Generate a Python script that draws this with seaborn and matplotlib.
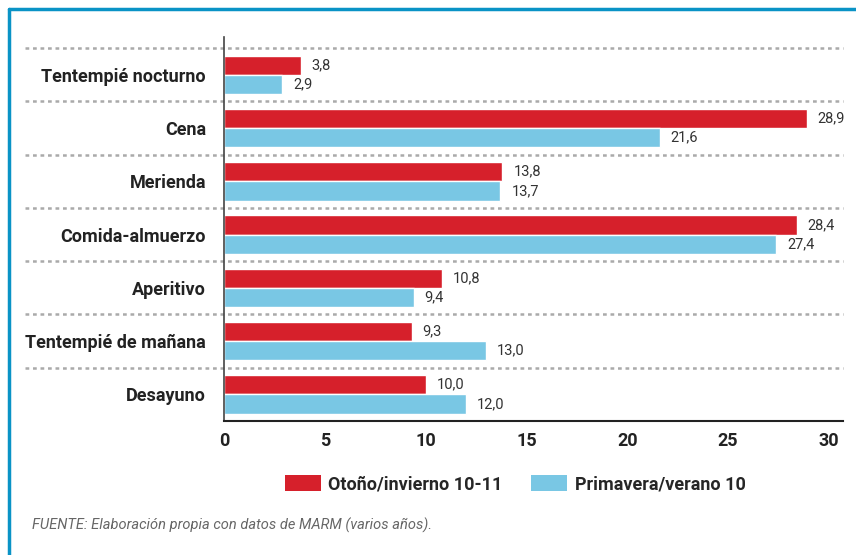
import pandas as pd
import numpy as np
import matplotlib
matplotlib.use('Agg')
import matplotlib.pyplot as plt
import seaborn as sns
from matplotlib.patches import Patch
from matplotlib.lines import Line2D

# Data
categories = ['Tentempié nocturno', 'Cena', 'Merienda', 'Comida-almuerzo',
              'Aperitivo', 'Tentempié de mañana', 'Desayuno']
otono = [3.8, 28.9, 13.8, 28.4, 10.8, 9.3, 10.0]
primavera = [2.9, 21.6, 13.7, 27.4, 9.4, 13.0, 12.0]
series_names = ['Otoño/invierno 10-11', 'Primavera/verano 10']
x_ticks = [0, 5, 10, 15, 20, 25, 30]

red = '#d6202b'
blue = '#79c7e4'

df = pd.DataFrame({
    'categoria': categories * 2,
    'valor': otono + primavera,
    'serie': [series_names[0]] * len(categories) + [series_names[1]] * len(categories),
})

sns.set_style('white')
plt.rcParams['font.family'] = ['Roboto', 'DejaVu Sans']

fig = plt.figure(figsize=(8.56, 5.55), dpi=100)
ax = fig.add_axes([224 / 856, 1 - 421 / 555, (843 - 224) / 856, (421 - 37) / 555])

sns.barplot(data=df, y='categoria', x='valor', hue='serie', order=categories,
            hue_order=series_names, palette=[red, blue], orient='h',
            width=0.72, saturation=1, legend=False, ax=ax)

ax.set_xlim(0, 30.7)
ax.set_ylim(6.5, -0.71)
ax.set_xticks(x_ticks)
ax.set_xticklabels([str(t) for t in x_ticks], fontsize=13, fontweight='bold', color='#222222')
ax.set_yticks(range(len(categories)))
ax.set_yticklabels(categories, fontsize=13, fontweight='bold', color='#222222')
ax.tick_params(axis='both', length=0)
ax.tick_params(axis='y', pad=13)
ax.tick_params(axis='x', pad=8)
ax.set_xlabel('')
ax.set_ylabel('')

for side in ['top', 'right']:
    ax.spines[side].set_visible(False)
ax.spines['left'].set_color('#444444')
ax.spines['left'].set_linewidth(1.2)
ax.spines['bottom'].set_color('#222222')
ax.spines['bottom'].set_linewidth(1.5)

# dotted separators between groups
for b in np.arange(-0.5, 6.0, 1.0):
    ax.axhline(b, xmin=(25 - 224) / (843 - 224), xmax=1, color='#aaaaaa',
               linestyle=(0, (1.5, 1.5)), linewidth=1.8, clip_on=False, zorder=0)

# value labels
for container in ax.containers:
    ax.bar_label(container, labels=[f'{v:.1f}'.replace('.', ',') for v in container.datavalues],
                 padding=8, fontsize=10.5, color='#333333')

# legend
handles = [Patch(facecolor=red, edgecolor='none'), Patch(facecolor=blue, edgecolor='none')]
fig.legend(handles, series_names, loc='center', bbox_to_anchor=(515 / 856, 1 - 484 / 555),
           ncol=2, frameon=False, handlelength=2.0, handleheight=1.0,
           columnspacing=1.6, handletextpad=0.4,
           prop={'size': 13, 'weight': 'bold'})

fig.text(32 / 856, 1 - 525 / 555, 'FUENTE: Elaboración propia con datos de MARM (varios años).',
         fontsize=10.5, style='italic', color='#666666', va='center', ha='left')

# blue frame (top and left)
frame = '#0a93c6'
fig.add_artist(Line2D([9 / 856, 1], [1 - 9 / 555, 1 - 9 / 555], color=frame, linewidth=2.5,
                      transform=fig.transFigure))
fig.add_artist(Line2D([9 / 856, 9 / 856], [0, 1 - 9 / 555], color=frame, linewidth=2.5,
                      transform=fig.transFigure))

fig.savefig('out.png', dpi=100)
plt.close(fig)
